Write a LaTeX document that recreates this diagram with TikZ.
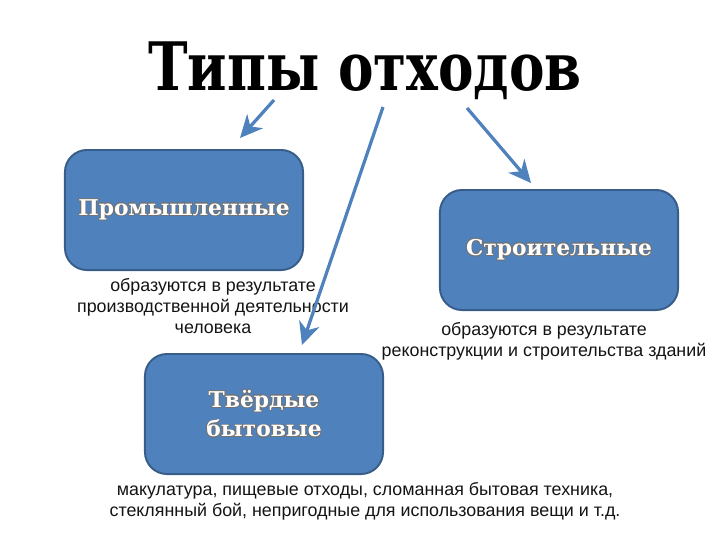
\documentclass[tikz,border=0pt]{standalone}
\usepackage{fontspec}
\setmainfont{Liberation Sans}
\newfontfamily\slabfont{DejaVu Serif}
\usepackage[copies]{contour}
\usepackage{tikz}
\usetikzlibrary{positioning, arrows.meta, calc}

\definecolor{boxblue}{HTML}{4F81BD}
\definecolor{boxedge}{HTML}{385D8A}

\tikzset{
  typebox/.style={draw=boxedge, fill=boxblue, line width=1.4pt, rounded corners=0.55cm,
                  minimum width=5.95cm, minimum height=3cm, align=center,
                  font=\slabfont\bfseries\fontsize{15.5}{21}\selectfont},
  note/.style={align=center, text=black!92, font=\fontsize{12.7}{15.2}\selectfont},
  arrowline/.style={draw=boxblue, line width=2.3pt,
                    -{Stealth[length=16pt, width=15pt, inset=5pt]}}
}

\newcommand{\boxtext}[1]{\contourlength{0.5pt}\contour{black!55}{\textcolor{white}{#1}}}

\begin{document}
\begin{tikzpicture}[x=0.025cm, y=-0.025cm]

\useasboundingbox (0,0) rectangle (720,540);

%//title
\node (title) at (365,71) {\scalebox{0.86}[1.08]{\slabfont\bfseries\fontsize{44}{50}\selectfont Типы отходов}};

%//boxes
\node [typebox] (prom) at (184,210) {\boxtext{Промышленные}};
\node [typebox] (stroi) at (559,250) {\boxtext{Строительные}};
\node [typebox] (tbo) at (264,414) {\boxtext{Твёрдые}\\\boxtext{бытовые}};

%//notes
\node [note] (promnote) at (213,306) {образуются в результате\\производственной деятельности\\человека};
\node [note] (stroinote) at (544,341) {образуются в результате\\реконструкции и строительства зданий};
\node [note] (tbonote) at (365,501) {макулатура, пищевые отходы, сломанная бытовая техника,\\стеклянный бой, непригодные для использования вещи и т.д.};

%//arrows
\coordinate (s1) at (274,100);
\coordinate (e1) at (240,138);
\coordinate (s2) at (383,107);
\coordinate (e2) at (302,345);
\coordinate (s3) at (467,108);
\coordinate (e3) at (531,183);

\draw [arrowline] (s1) -- (e1);
\draw [arrowline] (s2) -- (e2);
\draw [arrowline] (s3) -- (e3);
\end{tikzpicture}
\end{document}
